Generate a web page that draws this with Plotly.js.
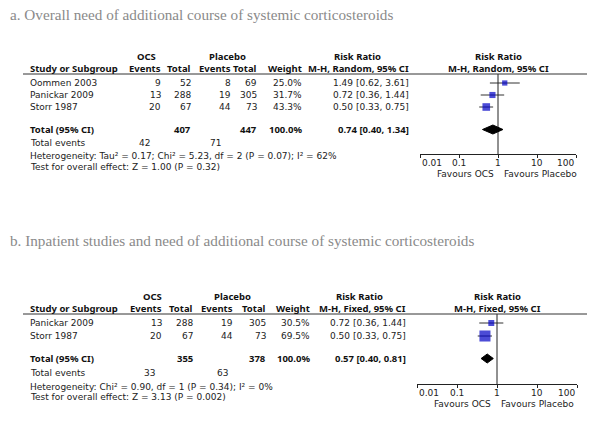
<!DOCTYPE html>
<html><head><meta charset="utf-8">
<script src="https://cdn.plot.ly/plotly-3.0.1.min.js"></script>
<style>html,body{margin:0;padding:0;background:#fff}#chart{width:600px;height:425px}</style>
</head><body><div id="chart"></div>
<script>
// ---------- DATA ----------
const titleA = 'a. Overall need of additional course of systemic corticosteroids';
const studiesA = ['Oommen 2003', 'Panickar 2009', 'Storr 1987'];
const ocsEventsA = [9, 13, 20];
const ocsTotalA = [52, 288, 67];
const plcEventsA = [8, 19, 44];
const plcTotalA = [69, 305, 73];
const weightA = [25.0, 31.7, 43.3];
const rrA = [1.49, 0.72, 0.50];
const loA = [0.62, 0.36, 0.33];
const hiA = [3.61, 1.44, 0.75];
const totalA = [0.74, 0.40, 1.34];          // RR, lower, upper
const totalsA = [407, 447, 42, 71];         // OCS total, placebo total, OCS events, placebo events
const hetA = 'Heterogeneity: Tau² = 0.17; Chi² = 5.23, df = 2 (P = 0.07); I² = 62%';
const testA = 'Test for overall effect: Z = 1.00 (P = 0.32)';
const methodA = 'M-H, Random, 95% CI';

const titleB = 'b. Inpatient studies and need of additional course of systemic corticosteroids';
const studiesB = ['Panickar 2009', 'Storr 1987'];
const ocsEventsB = [13, 20];
const ocsTotalB = [288, 67];
const plcEventsB = [19, 44];
const plcTotalB = [305, 73];
const weightB = [30.5, 69.5];
const rrB = [0.72, 0.50];
const loB = [0.36, 0.33];
const hiB = [1.44, 0.75];
const totalB = [0.57, 0.40, 0.81];
const totalsB = [355, 378, 33, 63];
const hetB = 'Heterogeneity: Chi² = 0.90, df = 1 (P = 0.34); I² = 0%';
const testB = 'Test for overall effect: Z = 3.13 (P = 0.002)';
const methodB = 'M-H, Fixed, 95% CI';

const tickVals = [0.01, 0.1, 1, 10, 100];
const tickLabels = ['0.01', '0.1', '1', '10', '100'];
const favours = ['Favours OCS', 'Favours Placebo'];

// ---------- LAYOUT HELPERS ----------
const W = 600, H = 425;
const px = x => x / W, py = y => 1 - y / H;
const FONT = 'DejaVu Sans';
const BFONT = 'Noto Sans';
const TXT = '#222';
const annotations = [];
function t(text, x, y, anchor, opt) {
  opt = opt || {};
  annotations.push({
    text: opt.bold ? '<b>' + text + '</b>' : text,
    xref: opt.xref || 'paper', yref: 'paper',
    x: opt.xref ? x : px(x), y: py(y),
    xanchor: anchor, yanchor: 'middle', showarrow: false,
    font: {family: opt.family || (opt.bold ? BFONT : FONT), size: opt.size || (opt.bold ? 9.5 : 9),
      color: opt.color || (opt.bold ? '#111' : TXT)}
  });
}
const ci = (r, l, h) => r.toFixed(2) + ' [' + l.toFixed(2) + ', ' + h.toFixed(2) + ']';

const shapes = [];
const traces = [];

function panel(cfg) {
  const c = cfg.cols;
  // title
  t(cfg.title, 8, cfg.titleY, 'left', {family: 'Liberation Serif', size: 15.2, color: '#8a8a8a'});
  // headers
  t('OCS', c.ocsC, cfg.h1, 'center', {bold: true});
  t('Placebo', c.plcC, cfg.h1, 'center', {bold: true});
  t('Risk Ratio', c.rrC, cfg.h1, 'center', {bold: true});
  t('Risk Ratio', c.plotC, cfg.h1, 'center', {bold: true});
  t('Study or Subgroup', 28, cfg.h2, 'left', {bold: true});
  t('Events', c.ev1, cfg.h2, 'right', {bold: true});
  t('Total', c.tot1, cfg.h2, 'right', {bold: true});
  t('Events', c.ev2, cfg.h2, 'right', {bold: true});
  t('Total', c.tot2, cfg.h2, 'right', {bold: true});
  t('Weight', c.w, cfg.h2, 'right', {bold: true});
  t(cfg.method, c.ci, cfg.h2, 'right', {bold: true});
  t(cfg.method, c.plotC, cfg.h2, 'center', {bold: true});
  shapes.push({type: 'line', xref: 'paper', yref: 'paper', x0: px(23), x1: px(587),
    y0: py(cfg.lineY), y1: py(cfg.lineY), line: {color: '#333', width: 1}});
  // study rows
  const ys = cfg.studies.map((s, i) => cfg.row0 + i * cfg.rowStep);
  cfg.studies.forEach((s, i) => {
    const y = ys[i];
    t(s, 28, y, 'left');
    t(String(cfg.ocsE[i]), c.ev1, y, 'right');
    t(String(cfg.ocsT[i]), c.tot1, y, 'right');
    t(String(cfg.plcE[i]), c.ev2, y, 'right');
    t(String(cfg.plcT[i]), c.tot2, y, 'right');
    t(cfg.weight[i].toFixed(1) + '%', c.w, y, 'right');
    t(ci(cfg.rr[i], cfg.lo[i], cfg.hi[i]), c.ci, y, 'right');
  });
  // totals
  t('Total (95% CI)', 28, cfg.totY, 'left', {bold: true});
  t(String(cfg.totals[0]), c.tot1, cfg.totY, 'right', {bold: true});
  t(String(cfg.totals[1]), c.tot2, cfg.totY, 'right', {bold: true});
  t('100.0%', c.w, cfg.totY, 'right', {bold: true});
  t(ci(cfg.total[0], cfg.total[1], cfg.total[2]), c.ci, cfg.totY, 'right', {bold: true});
  t('Total events', 28, cfg.evY, 'left');
  t(String(cfg.totals[2]), c.tev1, cfg.evY, 'right');
  t(String(cfg.totals[3]), c.tev2, cfg.evY, 'right');
  t(cfg.het, 28, cfg.hetY, 'left');
  t(cfg.test, 28, cfg.testY, 'left');
  // tick labels and favours
  tickVals.forEach((v, i) => {
    const anc = i === 0 ? 'left' : (i === tickVals.length - 1 ? 'right' : 'center');
    t(tickLabels[i], Math.log10(v), cfg.tickLabY, anc, {xref: cfg.xa});
  });
  t(favours[0], c.favL, cfg.favY, 'right');
  t(favours[1], c.favR, cfg.favY, 'left');

  const xa = cfg.xa, ya = cfg.ya;
  // study CIs and squares
  traces.push({
    type: 'scatter', mode: 'markers', xaxis: xa, yaxis: ya,
    x: cfg.rr, y: ys, cliponaxis: false, hoverinfo: 'skip',
    marker: {symbol: 'square', color: '#0000c4', size: cfg.weight.map(w => 2 + w * 0.13), line: {width: 0}},
    error_x: {type: 'data', symmetric: false,
      array: cfg.rr.map((r, i) => cfg.hi[i] - r),
      arrayminus: cfg.rr.map((r, i) => r - cfg.lo[i]),
      width: 0, thickness: 1, color: '#333'}
  });
  // vertical line of no effect
  traces.push({type: 'scatter', mode: 'lines', xaxis: xa, yaxis: ya, x: [1, 1],
    y: [cfg.lineY, cfg.axisY], line: {color: '#222', width: 1}, cliponaxis: false, hoverinfo: 'skip'});
  // diamond
  const [r, l, h] = cfg.total, yT = cfg.totY, d = 4.5;
  traces.push({type: 'scatter', mode: 'lines', xaxis: xa, yaxis: ya,
    x: [l, r, h, r, l], y: [yT, yT - d, yT, yT + d, yT], fill: 'toself', fillcolor: '#000',
    line: {color: '#000', width: 1}, cliponaxis: false, hoverinfo: 'skip'});
}

panel({
  title: titleA, titleY: 15, h1: 56, h2: 68, lineY: 74, row0: 83, rowStep: 12,
  totY: 129.5, evY: 143, hetY: 156, testY: 167, axisY: 154, tickLabY: 163, favY: 174,
  studies: studiesA, ocsE: ocsEventsA, ocsT: ocsTotalA, plcE: plcEventsA, plcT: plcTotalA,
  weight: weightA, rr: rrA, lo: loA, hi: hiA, total: totalA, totals: totalsA,
  het: hetA, test: testA, method: methodA, xa: 'x', ya: 'y',
  cols: {ocsC: 146, plcC: 227, rrC: 357, plotC: 498, ev1: 163, tot1: 193, ev2: 233, tot2: 259,
    w: 304, ci: 411, tev1: 152, tev2: 223, favL: 496, favR: 502}
});
panel({
  title: titleB, titleY: 241, h1: 296, h2: 308.3, lineY: 314, row0: 323, rowStep: 13,
  totY: 358.5, evY: 373, hetY: 386.5, testY: 397, axisY: 384, tickLabY: 393, favY: 404,
  studies: studiesB, ocsE: ocsEventsB, ocsT: ocsTotalB, plcE: plcEventsB, plcT: plcTotalB,
  weight: weightB, rr: rrB, lo: loB, hi: hiB, total: totalB, totals: totalsB,
  het: hetB, test: testB, method: methodB, xa: 'x2', ya: 'y2',
  cols: {ocsC: 152, plcC: 232, rrC: 359, plotC: 497, ev1: 164, tot1: 195, ev2: 235, tot2: 268,
    w: 312, ci: 408, tev1: 157, tev2: 230, favL: 493, favR: 499}
});

function xAxis(d0, d1, anchor) {
  return {type: 'log', range: [-2, 2], domain: [px(d0), px(d1)], anchor: anchor, autorange: false,
    showline: true, linecolor: '#222', linewidth: 1, ticks: 'outside', ticklen: 3, tickwidth: 1,
    tickcolor: '#222', tickvals: tickVals, showticklabels: false, showgrid: false, zeroline: false,
    fixedrange: true};
}
function yAxis(top, bottom) {
  return {range: [bottom, top], domain: [py(bottom), py(top)], autorange: false, visible: false,
    showgrid: false, zeroline: false, fixedrange: true};
}

const layout = {
  width: W, height: H, margin: {l: 0, r: 0, t: 0, b: 0},
  paper_bgcolor: '#fff', plot_bgcolor: 'rgba(0,0,0,0)', showlegend: false,
  xaxis: xAxis(420, 576, 'y'), yaxis: yAxis(74, 154),
  xaxis2: xAxis(417, 577, 'y2'), yaxis2: yAxis(314, 384),
  annotations: annotations, shapes: shapes,
  font: {family: FONT, size: 9, color: TXT}
};
Plotly.newPlot('chart', traces, layout, {staticPlot: true, displayModeBar: false});
</script></body></html>
